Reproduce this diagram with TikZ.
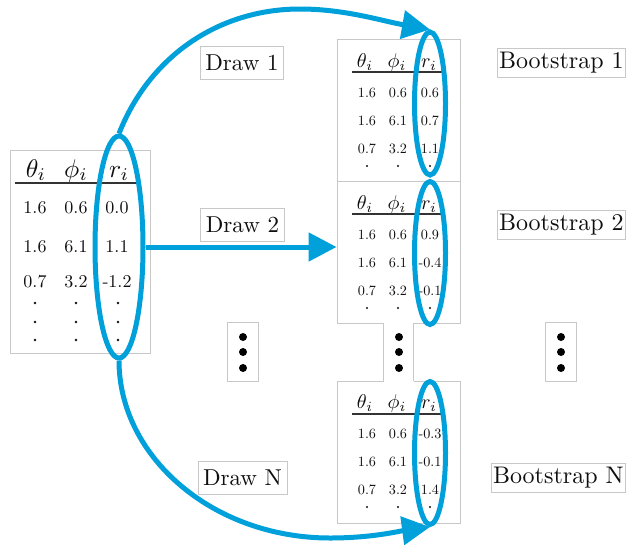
\documentclass[tikz,border=0pt]{standalone}
\usetikzlibrary{shapes.geometric,arrows.meta}
\definecolor{bootblue}{RGB}{0,160,218}
\definecolor{framegray}{RGB}{200,200,200}
\definecolor{inkc}{RGB}{15,15,15}
\newcommand\bigcell[1]{\scalebox{1.8}{#1}}
\newcommand\bighd[1]{\scalebox{2.55}{#1}}
\newcommand\smcell[1]{\scalebox{1.42}{#1}}
\newcommand\smhd[1]{\scalebox{2.0}{#1}}
\newcommand\tagtxt[1]{\scalebox{2.3}{#1}}
\newcommand\boottxt[1]{\scalebox{2.4}{#1}}
\begin{document}
\begin{tikzpicture}[x=1pt,y=-1pt,
  frame/.style={draw=framegray, line width=0.9pt, fill=white},
  cell/.style={anchor=base, inner sep=0pt, text=inkc},
  headrule/.style={draw=inkc!85, line width=1.1pt},
  ring/.style={ellipse, draw=bootblue, line width=5pt, inner sep=0pt},
  flow/.style={draw=bootblue, line width=5pt, -{Triangle[length=28pt,width=28pt]}},
  tagbox/.style={draw=framegray, fill=white, line width=0.8pt, text=inkc,
    inner xsep=5pt, inner ysep=0pt, minimum height=33pt},
  bootbox/.style={tagbox, inner xsep=2pt, minimum height=29pt},
  dotbox/.style={draw=framegray, fill=white, line width=0.9pt, minimum width=31pt, minimum height=59pt, inner sep=0pt},
  blob/.style={fill=black}
]
\useasboundingbox (0,0) rectangle (628,544);

% ---------- left (original) table ----------
\node[frame, minimum width=140pt, minimum height=203pt, inner sep=0pt] (LT) at (80,251.5) {};
\node[cell] (Lh1) at (36,177) {\bighd{$\theta_i$}};
\node[cell] (Lh2) at (76,177) {\bighd{$\phi_i$}};
\node[cell] (Lh3) at (119,177) {\bighd{$r_i$}};
\coordinate (Lr1) at (15,183);
\coordinate (Lr2) at (140,183);
\draw[headrule] (Lr1) -- (Lr2);
\foreach \y/\a/\b/\c [count=\k] in {213/1.6/0.6/0.0, 252/1.6/6.1/1.1, 287/0.7/3.2/-1.2}{
  \node[cell] (La\k) at (35,\y) {\bigcell{\a}};
  \node[cell] (Lb\k) at (76,\y) {\bigcell{\b}};
  \node[cell] (Lc\k) at (117,\y) {\bigcell{\c}};
}
\foreach \x in {35,76,118}{
  \foreach \y in {303,322,340}{
    \fill[inkc] (\x,\y) circle[radius=1.4pt];
  }
}

% ---------- bootstrap tables ----------
\foreach \bo/\to/\eo/\ra/\rb/\rc [count=\t] in {0/0/103.5/0.6/0.7/1.1, 142/142/253/0.9/-0.4/-0.1, 342/341/453/-0.3/-0.1/1.4}{
  \node[frame, minimum width=123pt, minimum height=142pt, inner sep=0pt] (T\t) at (398.5,110+\bo) {};
  \node[cell] (T\t h1) at (365,67+\to) {\smhd{$\theta_i$}};
  \node[cell] (T\t h2) at (397,67+\to) {\smhd{$\phi_i$}};
  \node[cell] (T\t h3) at (429,67+\to) {\smhd{$r_i$}};
  \coordinate (T\t r1) at (352,72+\bo);
  \coordinate (T\t r2) at (445,72+\bo);
  \draw[headrule] (T\t r1) -- (T\t r2);
  \foreach \y/\a/\b/\c [count=\k] in {97/1.6/0.6/\ra, 125/1.6/6.1/\rb, 153/0.7/3.2/\rc}{
    \node[cell] (T\t a\k) at (367,\y+\to) {\smcell{\a}};
    \node[cell] (T\t b\k) at (398,\y+\to) {\smcell{\b}};
    \node[cell] (T\t c\k) at (430,\y+\to) {\smcell{\c}};
  }
  \foreach \x in {367,398,430}{
    \fill[inkc] (\x,166+\to) circle[radius=1.2pt];
  }
  \node[ring, minimum width=31pt, minimum height=143pt] (E\t) at (430,\eo) {};
}

% ---------- dots boxes ----------
\node[dotbox] (D1) at (242.5,351.5) {};
\node[dotbox] (D3) at (561,351.5) {};
\node[fill=white, minimum width=30pt, minimum height=64pt, inner sep=0pt] (D2) at (398.5,352) {};
\draw[framegray, line width=0.9pt] (D2.north west |- T2.south) -- (D2.north west |- T3.north);
\draw[framegray, line width=0.9pt] (D2.north east |- T2.south) -- (D2.north east |- T3.north);
\foreach \x in {243,399,561}{
  \foreach \y in {337,352,368}{
    \fill[blob] (\x,\y) circle[radius=4pt];
  }
}

% ---------- labels ----------
\node[tagbox] (d1) at (242,62.5) {\tagtxt{Draw 1}};
\node[tagbox] (d2) at (242.5,225) {\tagtxt{Draw 2}};
\node[tagbox] (dN) at (242.5,478) {\tagtxt{Draw N}};
\node[bootbox, anchor=east] (b1) at (626,63) {\boottxt{Bootstrap 1}};
\node[bootbox, anchor=east] (b2) at (626,225) {\boottxt{Bootstrap 2}};
\node[bootbox, anchor=east] (bN) at (626,478) {\boottxt{Bootstrap N}};

% ---------- left ring and arrows ----------
\node[ring, minimum width=48pt, minimum height=222pt] (L) at (119,247) {};
\coordinate (topbend) at (300,9);
\coordinate (lowbend) at (330,538);
\draw[flow] (L.north) .. controls (150,55) and (220,9) .. (topbend)
            .. controls (345,9) and (382,21) .. (E1.north);
\draw[flow] (L.east) -- (T2.west |- L.east);
\draw[flow] (L.south) .. controls (119,457) and (213,538) .. (lowbend)
            .. controls (372,538) and (400,531) .. (E3.south);
\end{tikzpicture}
\end{document}
